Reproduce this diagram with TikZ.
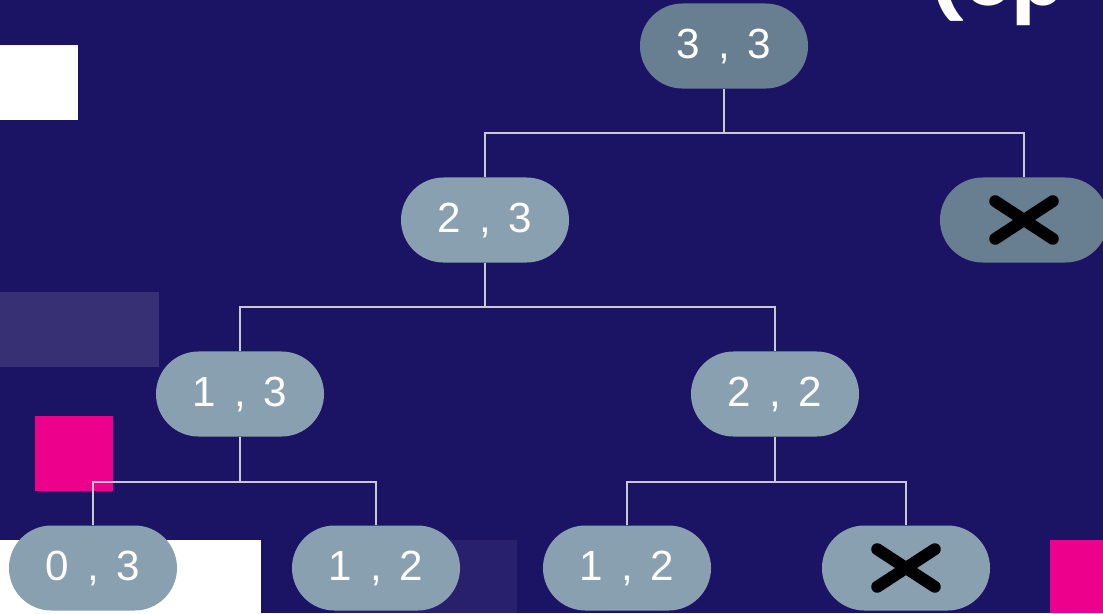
\documentclass[tikz,border=0pt]{standalone}
\usepackage{fontspec}
\setmainfont{Liberation Sans}
\newfontfamily\headfont{Poppins}
\usepackage{xcolor}
\definecolor{bgnavy}{RGB}{27,20,100}
\definecolor{nodeslate}{RGB}{104,127,146}
\definecolor{nodegrey}{RGB}{136,160,176}
\definecolor{linegrey}{RGB}{200,200,208}
\definecolor{mypink}{RGB}{236,0,140}
\definecolor{mypurple}{RGB}{56,48,116}
\definecolor{mydimpurple}{RGB}{40,32,108}
\usepackage{tikz}
\usetikzlibrary{shapes.misc}
\newcommand{\pair}[2]{#1\hspace{0.42em},\hspace{0.42em}#2}
\tikzset{
    state/.style={rounded rectangle, fill=nodegrey, text=white, inner sep=0pt,
        minimum width=4.2cm, minimum height=2.125cm, font=\fontsize{30}{36}\selectfont},
    upper/.style={state, fill=nodeslate},
    branch/.style={draw=linegrey, line width=1.4pt},
    cross/.style={
        path picture={
            \draw[black, line width=8.5pt, line cap=round]
                ([shift={(-0.72cm,-0.47cm)}]path picture bounding box.center)--([shift={(0.72cm,0.47cm)}]path picture bounding box.center)
                ([shift={(-0.72cm,0.47cm)}]path picture bounding box.center)--([shift={(0.72cm,-0.47cm)}]path picture bounding box.center);
        }
    }
}

\begin{document}
\begin{tikzpicture}[x=0.025cm, y=-0.025cm]
        \useasboundingbox (0,0) rectangle (1103,613);
        \clip (0,0) rectangle (1103,613);
        \fill[bgnavy] (0,0) rectangle (1103,613);

        % decoration blocks
        \fill[white] (0,45) rectangle (78,120);
        \fill[mypurple] (0,292) rectangle (159,367);
        \fill[mypink] (35,416) rectangle (113,491);
        \fill[white] (0,540) rectangle (261,613);
        \fill[mydimpurple] (335,540) rectangle (517,613);
        \fill[mypink] (1050,540) rectangle (1103,613);

        \node[anchor=base west, inner sep=0pt, text=white, font=\headfont\bfseries\fontsize{54}{60}\selectfont] (title) at (928,5) {(op};

        \path
            (724,46) node[upper] (S33) {\pair{3}{3}}
            (485,220) node[state] (S23) {\pair{2}{3}}
            (1024,220) node[upper, cross] (X1) {}
            (240,394) node[state] (S13) {\pair{1}{3}}
            (775,394) node[state] (S22) {\pair{2}{2}}
            (93,568) node[state] (S03) {\pair{0}{3}}
            (376,568) node[state] (S12a) {\pair{1}{2}}
            (627,568) node[state] (S12b) {\pair{1}{2}}
            (906,568) node[state, cross] (X2) {};

        \begin{scope}[on background layer/.try]
        \draw[branch]
          (S33.south) -- ++(0,44) -| (S23.north)
          (S33.south) -- ++(0,44) -| (X1.north)
          (S23.south) -- ++(0,44) -| (S13.north)
          (S23.south) -- ++(0,44) -| (S22.north)
          (S13.south) -- ++(0,45) -| (S03.north)
          (S13.south) -- ++(0,45) -| (S12a.north)
          (S22.south) -- ++(0,45) -| (S12b.north)
          (S22.south) -- ++(0,45) -| (X2.north);
        \end{scope}
\end{tikzpicture}
\end{document}
